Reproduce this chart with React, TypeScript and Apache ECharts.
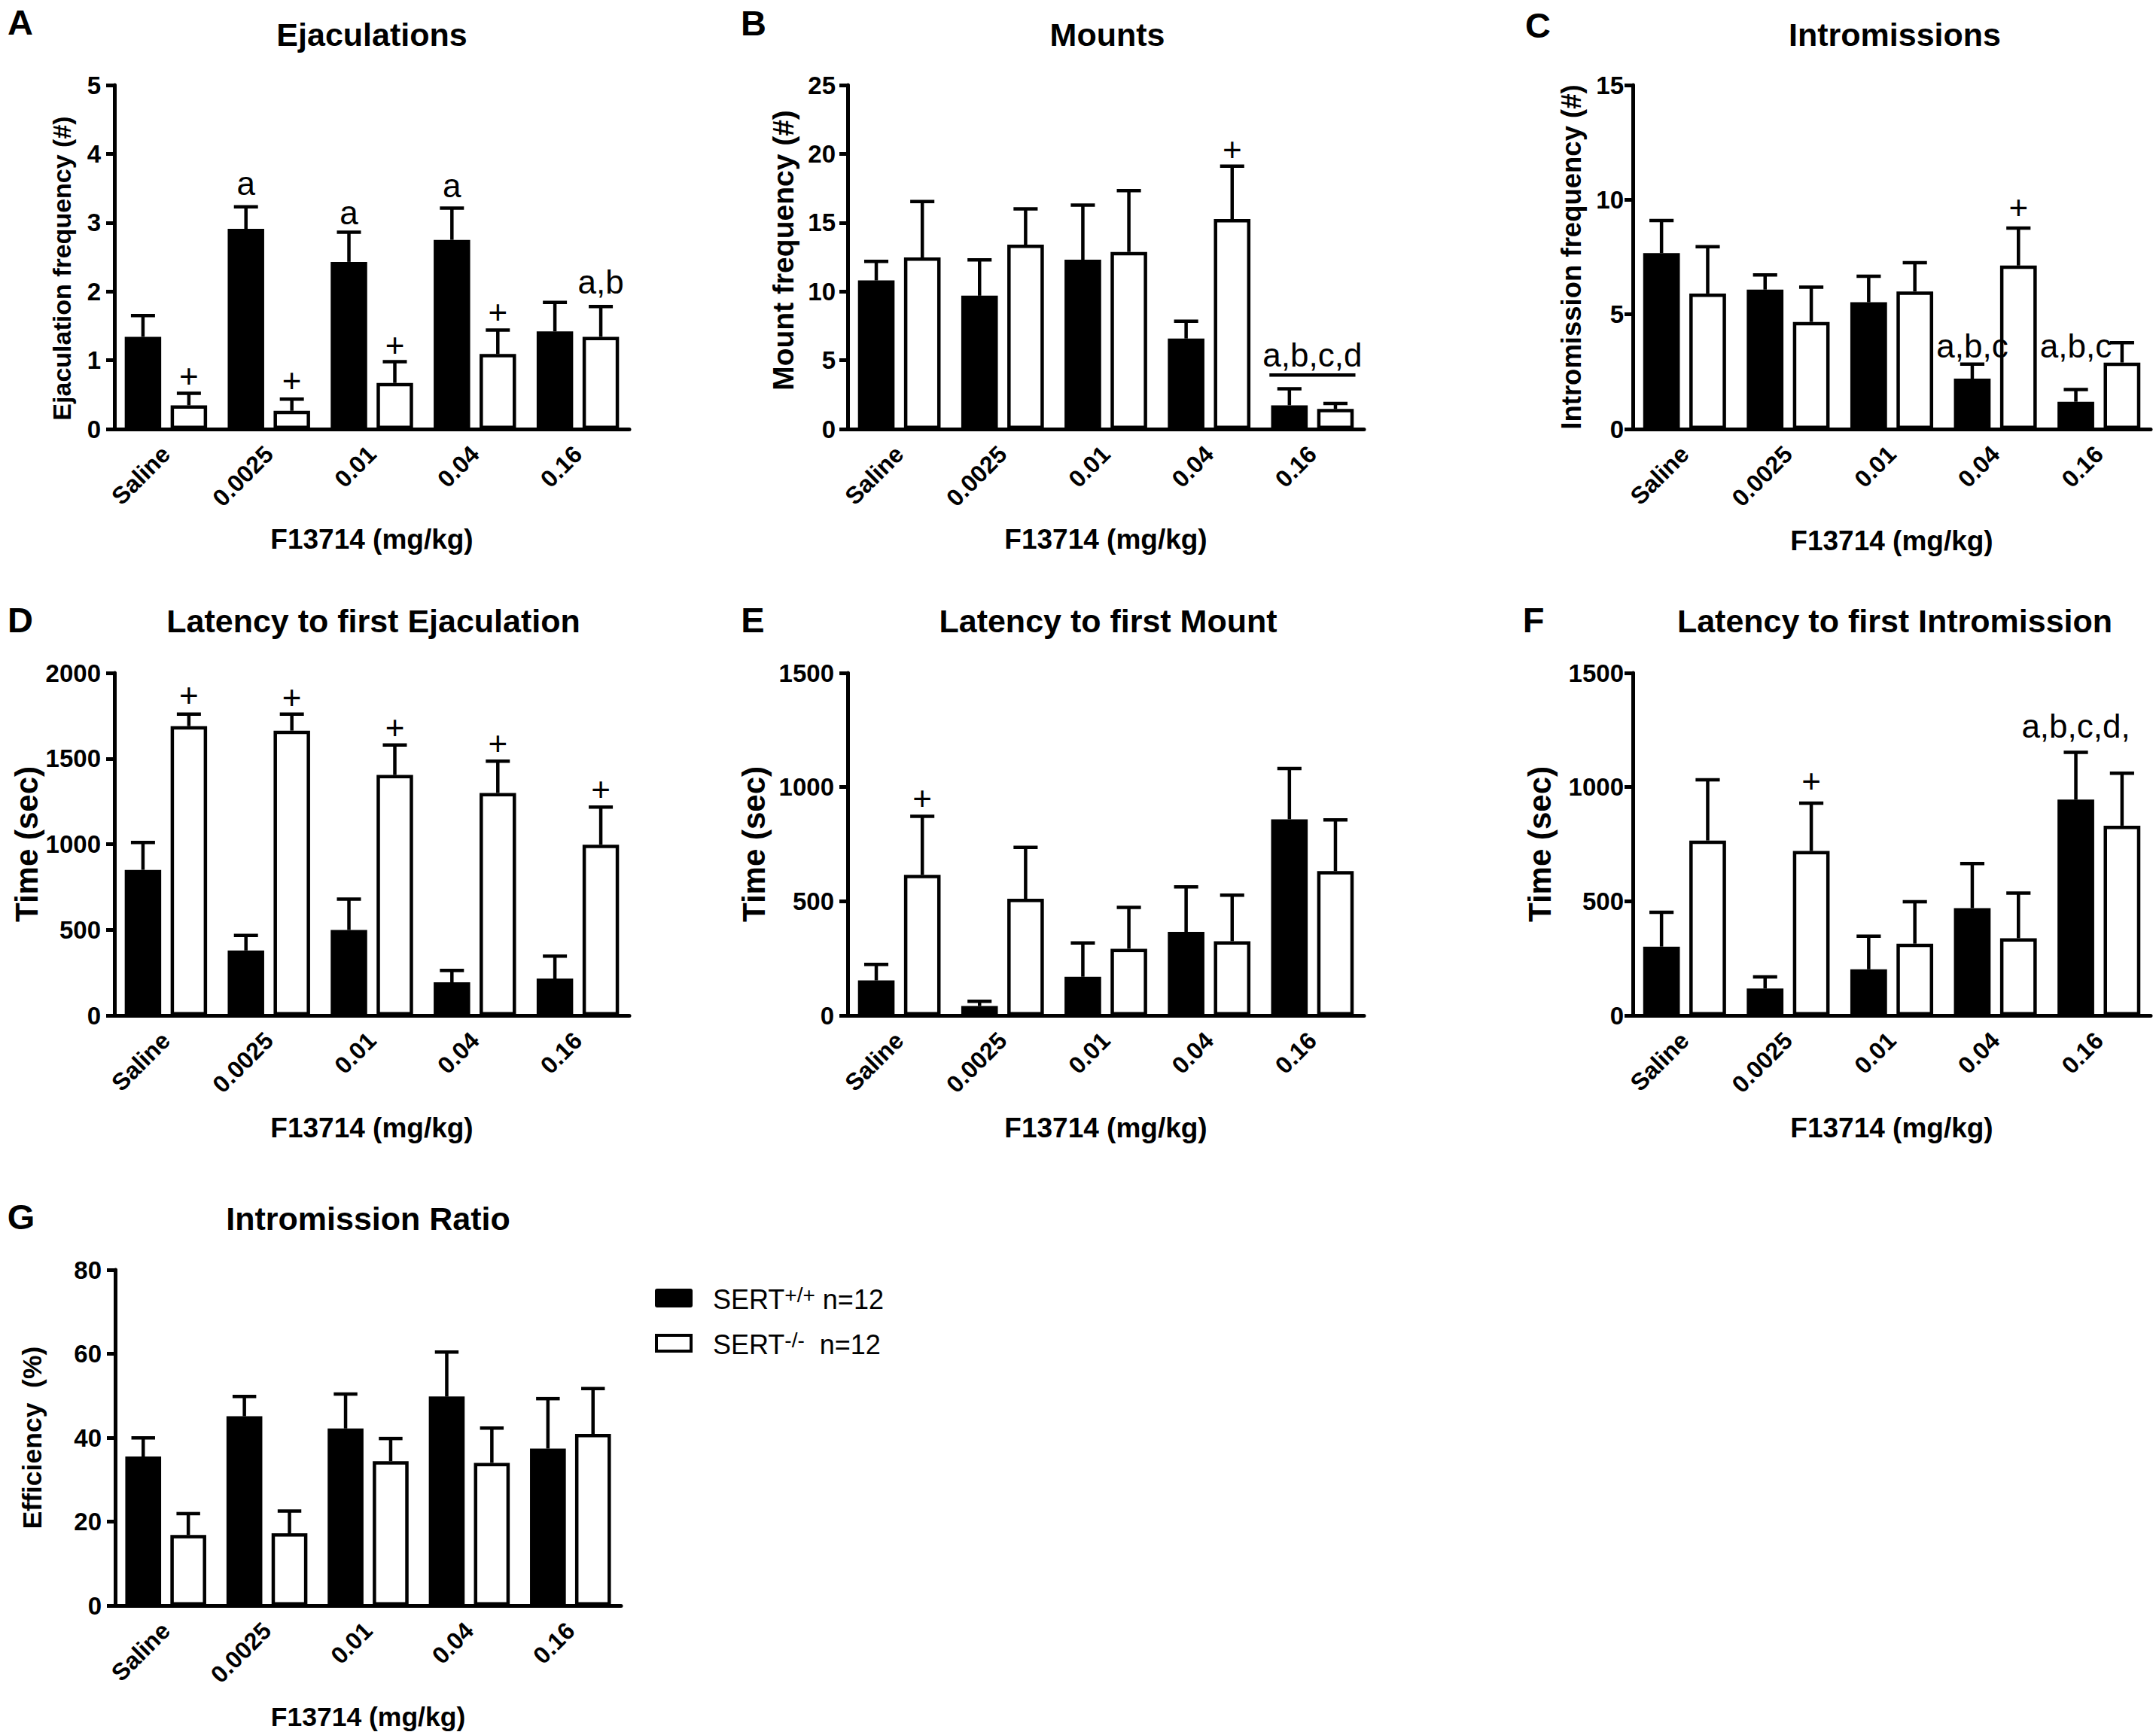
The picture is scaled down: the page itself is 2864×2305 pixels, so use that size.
import React, { useEffect, useRef } from "react";
import * as echarts from "echarts";

// ---------------- data ----------------
const CATEGORIES = ["Saline", "0.0025", "0.01", "0.04", "0.16"];
const X_NAME = "F13714 (mg/kg)";
const WT_NAME = "SERT+/+";
const KO_NAME = "SERT-/-";

// A - Ejaculations
const A_WT = [1.34, 2.91, 2.43, 2.75, 1.42];
const A_WT_SEM = [0.31, 0.32, 0.43, 0.46, 0.42];
const A_KO = [0.345, 0.265, 0.67, 1.09, 1.34];
const A_KO_SEM = [0.175, 0.17, 0.31, 0.35, 0.44];
// [category, side(-1 WT, 1 KO, 0 pair), value]
const A_MARKS = [[0, 1, 0.77], [1, 1, 0.71], [2, 1, 1.22], [3, 1, 1.7], [4, 1, 2.14], [1, -1, 3.57], [2, -1, 3.15], [3, -1, 3.54]];
const A_MARK_TEXT = ["+", "+", "+", "+", "a,b", "a", "a", "a"];

// B - Mounts
const B_WT = [10.8, 9.69, 12.31, 6.58, 1.73];
const B_WT_SEM = [1.38, 2.6, 3.96, 1.25, 1.19];
const B_KO = [12.47, 13.4, 12.87, 15.26, 1.46];
const B_KO_SEM = [4.06, 2.6, 4.46, 3.84, 0.4];
const B_MARKS = [[3, 1, 20.3], [4, 0, 5.39]];
const B_MARK_TEXT = ["+", "a,b,c,d"];
const B_LINES = [[4, 3.93]];

// C - Intromissions
const C_WT = [7.67, 6.08, 5.53, 2.2, 1.19];
const C_WT_SEM = [1.42, 0.64, 1.13, 0.63, 0.53];
const C_KO = [5.91, 4.67, 6.0, 7.13, 2.9];
const C_KO_SEM = [2.04, 1.52, 1.25, 1.63, 0.87];
const C_MARKS = [[3, 1, 9.68], [3, -1, 3.63], [4, -1, 3.63]];
const C_MARK_TEXT = ["+", "a,b,c", "a,b,c"];

// D - Latency to first Ejaculation
const D_WT = [850, 379, 499, 193, 215];
const D_WT_SEM = [160, 88, 180, 70, 131];
const D_KO = [1689, 1663, 1404, 1299, 997];
const D_KO_SEM = [70, 96, 175, 186, 219];
const D_MARKS = [[0, 1, 1869], [1, 1, 1858], [2, 1, 1682], [3, 1, 1588], [4, 1, 1321]];
const D_MARK_TEXT = ["+", "+", "+", "+", "+"];

// E - Latency to first Mount
const E_WT = [153, 41, 169, 366, 859];
const E_WT_SEM = [70, 21, 148, 197, 222];
const E_KO = [616, 511, 292, 325, 632];
const E_KO_SEM = [256, 225, 181, 202, 224];
const E_MARKS = [[0, 1, 950]];
const E_MARK_TEXT = ["+"];

// F - Latency to first Intromission
const F_WT = [301, 118, 202, 470, 945];
const F_WT_SEM = [151, 51, 145, 195, 207];
const F_KO = [766, 720, 314, 338, 831];
const F_KO_SEM = [266, 210, 184, 198, 230];
const F_MARKS = [[1, 1, 1028], [4, -1, 1266]];
const F_MARK_TEXT = ["+", "a,b,c,d,"];

// G - Intromission Ratio
const G_WT = [35.5, 45.1, 42.2, 49.8, 37.4];
const G_WT_SEM = [4.45, 4.7, 8.2, 10.6, 11.9];
const G_KO = [16.8, 17.2, 34.4, 34.0, 40.9];
const G_KO_SEM = [5.1, 5.3, 5.4, 8.3, 10.8];

// ---------------- layout / style ----------------
const FONT = "'Liberation Sans', Arial, Helvetica, sans-serif";
const CAT_GAP = 0.2;
const BAR_GAP = 0.258;
const BORDER = 4.5;
const CAP_RATIO = 0.33;

const PANELS = [
  { letter: "A", title: "Ejaculations", yName: "Ejaculation frequency (#)", yNameSize: 34, yNameGap: 53, yNamePad: [0, 30, 0, 0], labelMargin: 18, max: 5, interval: 1,
    grid: { left: 152, top: 113, width: 684, height: 457 }, titlePos: [494, 46], letterPos: [27, 29], xNameGap: 128, xNameSize: 37,
    wt: A_WT, wtErr: A_WT_SEM, ko: A_KO, koErr: A_KO_SEM, marks: A_MARKS, markText: A_MARK_TEXT, lines: [] as number[][] },
  { letter: "B", title: "Mounts", yName: "Mount frequency (#)", yNameSize: 39, yNameGap: 66, yNamePad: [0, 0, 0, 18], labelMargin: 16, max: 25, interval: 5,
    grid: { left: 1126, top: 113, width: 686, height: 457 }, titlePos: [1471, 46], letterPos: [1001, 30], xNameGap: 128, xNameSize: 37,
    wt: B_WT, wtErr: B_WT_SEM, ko: B_KO, koErr: B_KO_SEM, marks: B_MARKS, markText: B_MARK_TEXT, lines: B_LINES },
  { letter: "C", title: "Intromissions", yName: "Intromission frequency (#)", yNameSize: 36.5, yNameGap: 63, yNamePad: [0, 0, 0, 0], labelMargin: 12, max: 15, interval: 5,
    grid: { left: 2169, top: 113, width: 688, height: 457 }, titlePos: [2517, 46], letterPos: [2043, 33], xNameGap: 130, xNameSize: 37,
    wt: C_WT, wtErr: C_WT_SEM, ko: C_KO, koErr: C_KO_SEM, marks: C_MARKS, markText: C_MARK_TEXT, lines: [] as number[][] },
  { letter: "D", title: "Latency to first Ejaculation", yName: "Time (sec)", yNameSize: 42, yNameGap: 93, yNamePad: [0, 0, 0, 0], labelMargin: 18, max: 2000, interval: 500,
    grid: { left: 152, top: 894, width: 684, height: 455 }, titlePos: [496, 825], letterPos: [27, 823], xNameGap: 131, xNameSize: 37,
    wt: D_WT, wtErr: D_WT_SEM, ko: D_KO, koErr: D_KO_SEM, marks: D_MARKS, markText: D_MARK_TEXT, lines: [] as number[][] },
  { letter: "E", title: "Latency to first Mount", yName: "Time (sec)", yNameSize: 42, yNameGap: 104, yNamePad: [0, 0, 0, 0], labelMargin: 18, max: 1500, interval: 500,
    grid: { left: 1126, top: 894, width: 686, height: 455 }, titlePos: [1472, 825], letterPos: [1000, 823], xNameGap: 131, xNameSize: 37,
    wt: E_WT, wtErr: E_WT_SEM, ko: E_KO, koErr: E_KO_SEM, marks: E_MARKS, markText: E_MARK_TEXT, lines: [] as number[][] },
  { letter: "F", title: "Latency to first Intromission", yName: "Time (sec)", yNameSize: 42, yNameGap: 103, yNamePad: [0, 0, 0, 0], labelMargin: 12, max: 1500, interval: 500,
    grid: { left: 2169, top: 894, width: 688, height: 455 }, titlePos: [2517, 825], letterPos: [2037, 823], xNameGap: 131, xNameSize: 37,
    wt: F_WT, wtErr: F_WT_SEM, ko: F_KO, koErr: F_KO_SEM, marks: F_MARKS, markText: F_MARK_TEXT, lines: [] as number[][] },
  { letter: "G", title: "Intromission Ratio", yName: "Efficiency  (%)", yNameSize: 35.5, yNameGap: 92, yNamePad: [0, 0, 0, 0], labelMargin: 18, max: 80, interval: 20,
    grid: { left: 153, top: 1687, width: 672, height: 446 }, titlePos: [489, 1619], letterPos: [28, 1616], xNameGap: 130, xNameSize: 35.5,
    wt: G_WT, wtErr: G_WT_SEM, ko: G_KO, koErr: G_KO_SEM, marks: [] as number[][], markText: [] as string[], lines: [] as number[][] },
];

function barGeom(api: any, c: number, v: number, side: number) {
  const p = api.coord([c, v]);
  const band = api.size([1, 0])[0];
  const bw = (band * (1 - CAT_GAP)) / (2 + BAR_GAP);
  const x = p[0] + (side * (1 + BAR_GAP) * bw) / 2;
  return { x, y: p[1], bw };
}

function buildOption() {
  const grid: any[] = [];
  const xAxis: any[] = [];
  const yAxis: any[] = [];
  const series: any[] = [];
  const graphic: any[] = [];

  PANELS.forEach((p, i) => {
    grid.push({ ...p.grid });
    xAxis.push({
      type: "category",
      gridIndex: i,
      data: CATEGORIES,
      boundaryGap: true,
      axisLine: { lineStyle: { color: "#000", width: 5 } },
      axisTick: { alignWithLabel: true, length: 11, lineStyle: { color: "#000", width: 5 } },
      axisLabel: { interval: 0, rotate: 45, margin: 28, fontSize: 32, fontWeight: "bold", color: "#000", fontFamily: FONT },
      name: X_NAME,
      nameLocation: "middle",
      nameGap: p.xNameGap,
      nameTextStyle: { fontSize: p.xNameSize, fontWeight: "bold", color: "#000", fontFamily: FONT },
    });
    yAxis.push({
      type: "value",
      gridIndex: i,
      min: 0,
      max: p.max,
      interval: p.interval,
      axisLine: { show: true, lineStyle: { color: "#000", width: 5 } },
      axisTick: { show: true, length: 11, lineStyle: { color: "#000", width: 5 } },
      splitLine: { show: false },
      axisLabel: {
        margin: p.labelMargin,
        fontSize: 33,
        fontWeight: "bold",
        color: "#000",
        fontFamily: FONT,
        formatter: (v: number) => String(v),
      },
      name: p.yName,
      nameLocation: "middle",
      nameRotate: 90,
      nameGap: p.yNameGap,
      nameTextStyle: { fontSize: p.yNameSize, fontWeight: "bold", color: "#000", fontFamily: FONT, padding: p.yNamePad },
    });

    series.push({
      type: "bar",
      name: WT_NAME,
      xAxisIndex: i,
      yAxisIndex: i,
      data: p.wt,
      barGap: (BAR_GAP * 100).toFixed(1) + "%",
      barCategoryGap: CAT_GAP * 100 + "%",
      itemStyle: { color: "#000", borderColor: "#000", borderWidth: BORDER },
      z: 2,
    });
    series.push({
      type: "bar",
      name: KO_NAME,
      xAxisIndex: i,
      yAxisIndex: i,
      data: p.ko,
      barGap: (BAR_GAP * 100).toFixed(1) + "%",
      barCategoryGap: CAT_GAP * 100 + "%",
      itemStyle: { color: "#fff", borderColor: "#000", borderWidth: BORDER },
      z: 2,
    });

    const errData: number[][] = [];
    p.wt.forEach((v, c) => errData.push([c, -1, v, p.wtErr[c]]));
    p.ko.forEach((v, c) => errData.push([c, 1, v, p.koErr[c]]));
    series.push({
      type: "custom",
      name: "sem" + i,
      xAxisIndex: i,
      yAxisIndex: i,
      data: errData,
      encode: { x: 0, y: 2 },
      z: 3,
      silent: true,
      renderItem: (params: any, api: any) => {
        const c = api.value(0);
        const side = api.value(1);
        const v = api.value(2);
        const e = api.value(3);
        const b = barGeom(api, c, v, side);
        const top = api.coord([c, v + e])[1];
        const half = b.bw * CAP_RATIO;
        return {
          type: "group",
          children: [
            { type: "line", shape: { x1: b.x, y1: b.y, x2: b.x, y2: top }, style: { stroke: "#000", lineWidth: 4.5 } },
            { type: "line", shape: { x1: b.x - half, y1: top, x2: b.x + half, y2: top }, style: { stroke: "#000", lineWidth: 4.5 } },
          ],
        };
      },
    });

    if (p.marks.length) {
      const texts = p.markText;
      series.push({
        type: "custom",
        name: "marks" + i,
        xAxisIndex: i,
        yAxisIndex: i,
        data: p.marks,
        encode: { x: 0, y: 2 },
        z: 4,
        silent: true,
        renderItem: (params: any, api: any) => {
          const b = barGeom(api, api.value(0), api.value(2), api.value(1));
          return {
            type: "text",
            x: b.x,
            y: b.y,
            style: { text: texts[params.dataIndex], fontSize: 44, fontFamily: FONT, fill: "#000", align: "center", verticalAlign: "middle" },
          };
        },
      });
    }

    if (p.lines.length) {
      series.push({
        type: "custom",
        name: "lines" + i,
        xAxisIndex: i,
        yAxisIndex: i,
        data: p.lines,
        encode: { x: 0, y: 1 },
        z: 4,
        silent: true,
        renderItem: (params: any, api: any) => {
          const c = api.value(0);
          const l = barGeom(api, c, api.value(1), -1);
          const r = barGeom(api, c, api.value(1), 1);
          return {
            type: "line",
            shape: { x1: l.x - l.bw / 2 - BORDER / 2, y1: l.y, x2: r.x + r.bw / 2 + BORDER / 2, y2: l.y },
            style: { stroke: "#000", lineWidth: 4.5 },
          };
        },
      });
    }

    graphic.push({
      type: "text",
      x: p.titlePos[0],
      y: p.titlePos[1],
      style: { text: p.title, fontSize: 43, fontWeight: "bold", fontFamily: FONT, fill: "#000", align: "center", verticalAlign: "middle" },
    });
    graphic.push({
      type: "text",
      x: p.letterPos[0],
      y: p.letterPos[1],
      style: { text: p.letter, fontSize: 47, fontWeight: "bold", fontFamily: FONT, fill: "#000", align: "center", verticalAlign: "middle" },
    });
  });

  // legend
  const rich = {
    m: { fontSize: 36, fontFamily: FONT, fill: "#000", lineHeight: 40 },
    s: { fontSize: 28, fontFamily: FONT, fill: "#000", lineHeight: 26, verticalAlign: "top" },
  };
  graphic.push({ type: "rect", shape: { x: 870, y: 1712, width: 50, height: 25, r: 3 }, style: { fill: "#000" } });
  graphic.push({ type: "rect", shape: { x: 872, y: 1774, width: 46, height: 21 }, style: { fill: "#fff", stroke: "#000", lineWidth: 4 } });
  graphic.push({
    type: "text",
    x: 947,
    y: 1726,
    style: { text: "{m|SERT}{s|+/+}{m| n=12}", rich, align: "left", verticalAlign: "middle" },
  });
  graphic.push({
    type: "text",
    x: 947,
    y: 1786,
    style: { text: "{m|SERT}{s|-/-}{m|  n=12}", rich, align: "left", verticalAlign: "middle" },
  });

  return {
    animation: false,
    backgroundColor: "#fff",
    grid,
    xAxis,
    yAxis,
    series,
    graphic,
  };
}

export default function App() {
  const ref = useRef<HTMLDivElement>(null);
  useEffect(() => {
    document.body.style.margin = "0";
    if (!ref.current) return;
    const chart = echarts.init(ref.current, undefined, { renderer: "svg" });
    chart.setOption(buildOption() as any);
    return () => chart.dispose();
  }, []);
  return <div ref={ref} style={{ width: 2864, height: 2305, background: "#fff" }} />;
}
